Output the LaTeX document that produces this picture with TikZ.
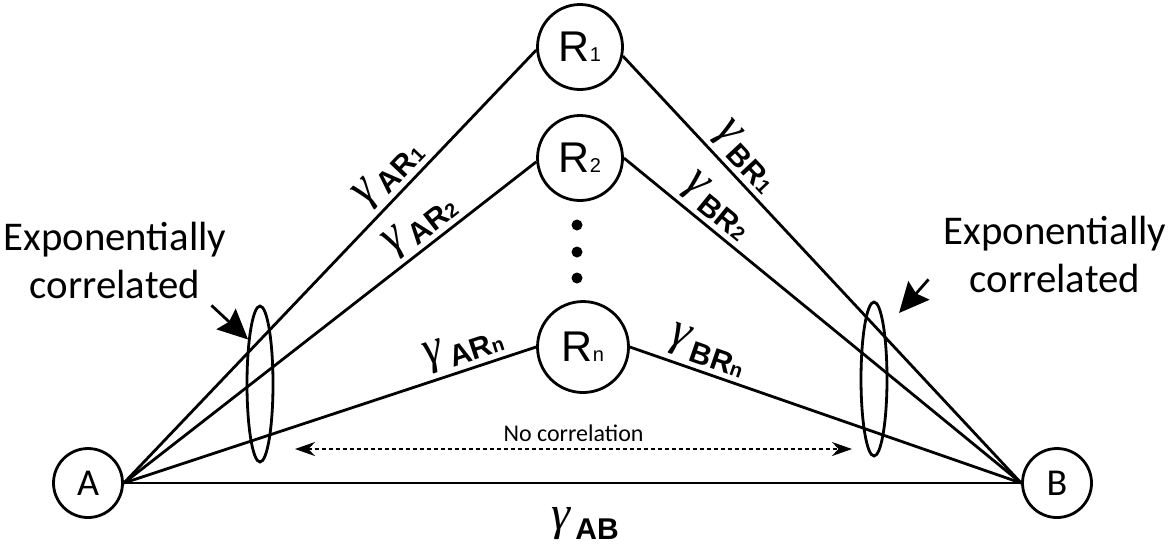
\documentclass[tikz,border=0pt]{standalone}
\usepackage{fontspec}
\setmainfont{Carlito}
\newfontfamily\arialfont{Liberation Sans}
\newfontfamily\timesfont{Liberation Serif}
\usetikzlibrary{shapes, arrows.meta, positioning, calc}

\newcommand{\smallidx}[1]{{\fontsize{10pt}{10pt}\selectfont #1}}
\newcommand{\gainlabel}[2]{{\timesfont\itshape\fontsize{24pt}{24pt}\selectfont γ}\hspace{2.5pt}\raisebox{-5pt}{\arialfont\fontsize{15pt}{15pt}\selectfont\bfseries #1\smallidx{#2}}}

\begin{document}
\begin{tikzpicture}[
    x=0.5pt, y=-0.5pt,
    relay/.style={circle, draw, line width=1.4pt, inner sep=0pt, minimum size=42.5pt, font=\arialfont\fontsize{21.5pt}{21.5pt}\selectfont},
    terminal/.style={circle, draw, line width=1.4pt, inner sep=0pt, minimum size=34.5pt, font=\fontsize{19pt}{19pt}\selectfont},
    group/.style={ellipse, draw, line width=1.4pt, inner sep=0pt, minimum width=13pt, minimum height=78pt},
    note/.style={align=center, font=\fontsize{20.4pt}{24pt}\selectfont},
    link/.style={draw, line width=1.4pt},
    pointer/.style={draw, line width=1.4pt, -{Stealth[length=15pt, width=14pt, inset=2pt]}},
    nocorr/.style={draw, line width=1pt, dash pattern=on 2pt off 1.5pt, {Stealth[length=10pt, width=7pt]}-{Stealth[length=10pt, width=7pt]}},
    gain/.style={sloped, above, inner sep=2.5pt}
]
\useasboundingbox (0,0) rectangle (1170,543);

\node [terminal] (A) at (88,483) {A};
\node [terminal] (B) at (1057,483) {B};
\node [relay] (R1) at (580,47) {R\smallidx{1}};
\node [relay] (R2) at (580,158) {R\smallidx{2}};
\node [relay, minimum size=45.5pt] (Rn) at (583,347) {R\smallidx{n}};
\foreach \y in {225,252,278}
    \fill (577,\y) circle (5.5);

\node [group] (corrA) at (260,384) {};
\node [group, minimum height=77pt] (corrB) at (874,379) {};
\node [note] (noteA) at (115,260) {Exponentially\\correlated};
\node [note] (noteB) at (1055,254) {Exponentially\\correlated};

\coordinate (ncl) at (295,449);
\coordinate (ncr) at (852,449);

\path [link] (A.east) -- node [gain, pos=0.68] {\gainlabel{AR}{1}} (R1.184);
\path [link] (A.east) -- node [gain, pos=0.75] {\gainlabel{AR}{2}} (R2.185);
\path [link] (A.east) -- node [gain, pos=0.84] {\gainlabel{AR}{n}} (Rn.west);
\path [link] (R1.-12) -- node [gain, pos=0.27] {\gainlabel{BR}{1}} (B.west);
\path [link] (R2.east) -- node [gain, pos=0.2] {\gainlabel{BR}{2}} (B.west);
\path [link] (Rn.east) -- node [gain, pos=0.18] {\gainlabel{BR}{n}} (B.west);
\path [link] (A.east) -- node [below=8pt, pos=0.514] {\gainlabel{AB}{}} (B.west);

\path [pointer] ([xshift=-11pt]noteA.south east) -- (corrA.105);
\path [pointer] ([shift={(-4pt,10pt)}]noteB.south west) -- ([shift={(12.5pt,33pt)}]corrB.center);
\path [nocorr] (ncl) -- node [above, font=\fontsize{12pt}{12pt}\selectfont] (nclabel) {No correlation} (ncr);

\end{tikzpicture}
\end{document}
